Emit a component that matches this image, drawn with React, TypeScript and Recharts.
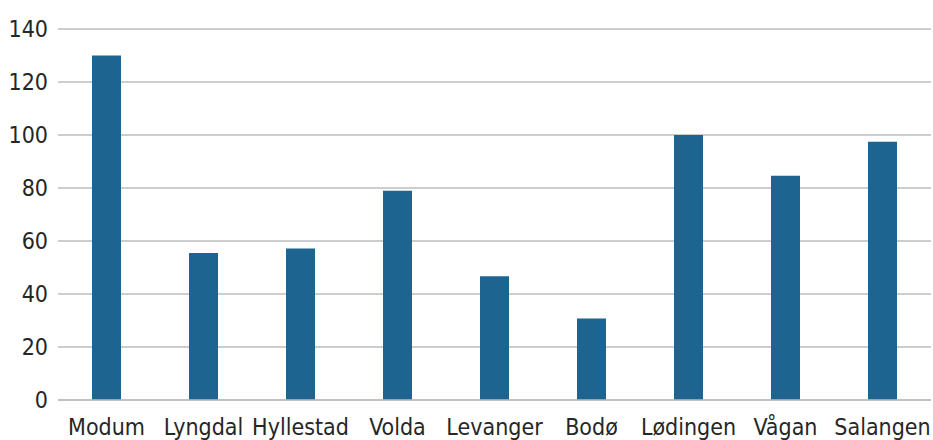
import { BarChart, Bar, XAxis, YAxis, CartesianGrid } from 'recharts';

const kommuner = ['Modum', 'Lyngdal', 'Hyllestad', 'Volda', 'Levanger', 'Bodø', 'Lødingen', 'Vågan', 'Salangen'];
const verdier = [130, 55.5, 57.2, 79, 46.7, 30.8, 100, 84.6, 97.5];
const yTicks = [0, 20, 40, 60, 80, 100, 120, 140];

const data = kommuner.map((navn, i) => ({ navn, verdi: verdier[i] }));

const BAR_COLOR = '#1d6590';
const GRID_COLOR = '#bdbdbd';
const TEXT_COLOR = '#262626';
const FONT = '"DejaVu Sans Condensed", "DejaVu Sans", Verdana, sans-serif';

export default function App() {
  return (
    <div style={{ position: 'absolute', left: 0, top: 0, width: 933, height: 440, background: '#fff' }}>
      <BarChart
        width={933}
        height={440}
        data={data}
        margin={{ top: 29, right: 2, bottom: 0, left: 0 }}
      >
        <CartesianGrid vertical={false} stroke={GRID_COLOR} strokeWidth={1.5} />
        <XAxis
          dataKey="navn"
          height={40}
          axisLine={{ stroke: GRID_COLOR, strokeWidth: 1.5 }}
          tickLine={false}
          tickMargin={13}
          interval={0}
          tick={{ fill: TEXT_COLOR, fontSize: 23, fontFamily: FONT }}
        />
        <YAxis
          width={58}
          domain={[0, 140]}
          ticks={yTicks}
          axisLine={false}
          tickLine={false}
          tickMargin={4}
          tick={{ fill: TEXT_COLOR, fontSize: 23, fontFamily: FONT }}
        />
        <Bar dataKey="verdi" fill={BAR_COLOR} barSize={29} isAnimationActive={false} />
      </BarChart>
    </div>
  );
}
